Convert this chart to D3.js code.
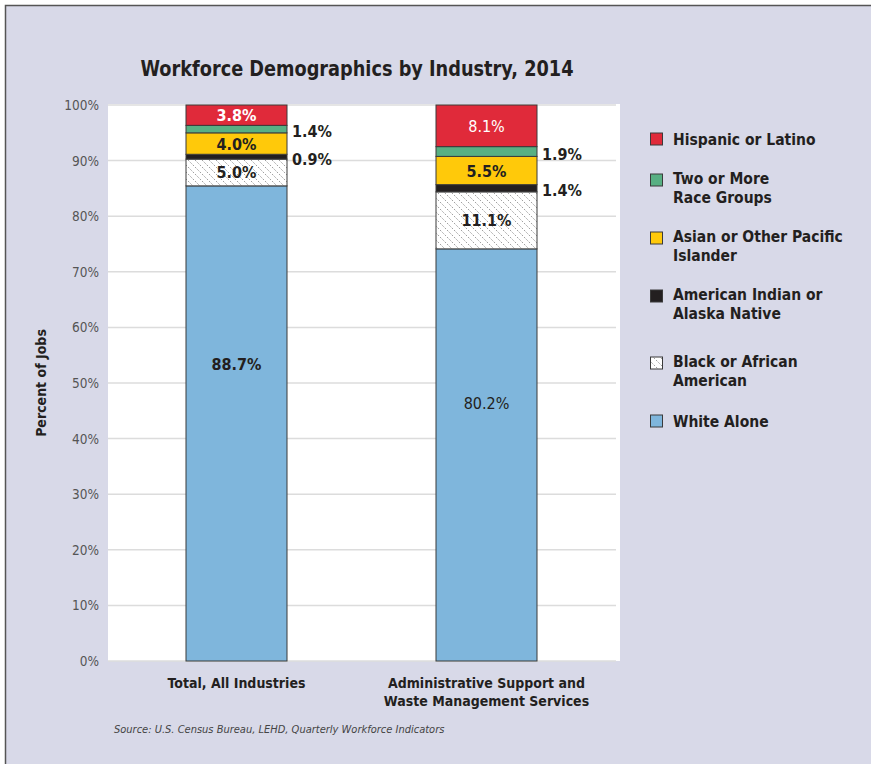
<!DOCTYPE html>
<html>
<head>
<meta charset="utf-8">
<script src="https://cdn.jsdelivr.net/npm/d3@7"></script>
<style>
  body { margin: 0; background: #fff; }
  svg text { font-family: 'DejaVu Sans Condensed', 'Liberation Sans Narrow', 'Open Sans', sans-serif; }
</style>
</head>
<body>
<div id="chart"></div>
<script>
// categories and values (percent of jobs)
var categories = ["Total, All Industries", "Administrative Support and Waste Management Services"];
var catLines = [["Total, All Industries"], ["Administrative Support and", "Waste Management Services"]];
var white    = [88.7, 80.2];
var black    = [5.0, 11.1];
var amInd    = [0.9, 1.4];
var asian    = [4.0, 5.5];
var twoMore  = [1.4, 1.9];
var hispanic = [3.8, 8.1];

var yTicks = [0, 0.1, 0.2, 0.3, 0.4, 0.5, 0.6, 0.7, 0.8, 0.9, 1.0];

// series bottom to top
var keys = ["white", "black", "amInd", "asian", "two", "hispanic"];
var seriesNames = {
  hispanic: ["Hispanic or Latino"],
  two: ["Two or More", "Race Groups"],
  asian: ["Asian or Other Pacific", "Islander"],
  amInd: ["American Indian or", "Alaska Native"],
  black: ["Black or African", "American"],
  white: ["White Alone"]
};
var legendOrder = ["hispanic", "two", "asian", "amInd", "black", "white"];
var colors = {
  white: "#7fb6dc", black: "url(#hatch)", amInd: "#231f20",
  asian: "#ffc90a", two: "#58b083", hispanic: "#e02a3a"
};

var data = categories.map(function(c, i) {
  return { cat: c, white: white[i], black: black[i], amInd: amInd[i],
           asian: asian[i], two: twoMore[i], hispanic: hispanic[i] };
});

var W = 871, H = 764;
var svg = d3.select("#chart").append("svg")
  .attr("width", W).attr("height", H);

var defs = svg.append("defs");
var pat = defs.append("pattern")
  .attr("id", "hatch").attr("patternUnits", "userSpaceOnUse")
  .attr("width", 7).attr("height", 7);
pat.append("rect").attr("width", 7).attr("height", 7).attr("fill", "#fff");
pat.append("path").attr("d", "M-1,-1 L8,8 M-8,-1 L1,8 M6,-1 L15,8")
  .attr("stroke", "#555").attr("stroke-width", 0.8).attr("stroke-dasharray", "1,1.5");

// background panel
svg.append("rect").attr("x", 5.5).attr("y", 5.5).attr("width", W + 10).attr("height", H + 10)
  .attr("fill", "#d8d9e8").attr("stroke", "#555").attr("stroke-width", 1.5);

var plot = { left: 108, right: 620, top: 105, bottom: 661 };
svg.append("rect").attr("x", plot.left).attr("y", plot.top - 1)
  .attr("width", plot.right - plot.left).attr("height", plot.bottom - plot.top + 1)
  .attr("fill", "#fff");

var x = d3.scaleBand().domain(categories)
  .range([plot.left, plot.right - 5]).paddingInner(0.596).paddingOuter(0.312);
var y = d3.scaleLinear().domain([0, 1]).range([plot.bottom, plot.top]);

// gridlines
svg.append("g").selectAll("line").data(yTicks).enter().append("line")
  .attr("x1", plot.left).attr("x2", plot.right - 4)
  .attr("y1", function(d) { return y(d); }).attr("y2", function(d) { return y(d); })
  .attr("stroke", "#dcdcdc").attr("stroke-width", 1.5);

// y axis labels
svg.append("g").selectAll("text").data(yTicks).enter().append("text")
  .attr("x", 99).attr("y", function(d) { return y(d) + 5; })
  .attr("text-anchor", "end").attr("font-size", 13.5).attr("fill", "#555")
  .text(function(d) { return d3.format(".0%")(d); });

svg.append("text")
  .attr("transform", "translate(46,383) rotate(-90)")
  .attr("text-anchor", "middle").attr("font-size", 14).attr("font-weight", "bold")
  .attr("fill", "#231f20").text("Percent of Jobs");

// stacked bars, normalised to 100%
var stack = d3.stack().keys(keys).offset(d3.stackOffsetExpand);
var series = stack(data);

var layers = svg.append("g").selectAll("g").data(series).enter().append("g");
layers.selectAll("rect").data(function(s) { return s.map(function(d) { d.key = s.key; return d; }); })
  .enter().append("rect")
  .attr("x", function(d) { return x(d.data.cat); })
  .attr("y", function(d) { return y(d[1]); })
  .attr("width", x.bandwidth())
  .attr("height", function(d) { return y(d[0]) - y(d[1]); })
  .attr("fill", function(d) { return colors[d.key]; })
  .attr("stroke", "#3a3a3a").attr("stroke-width", 1);

// value labels
var inside = ["white", "black", "asian", "hispanic"];
var regular = { "1-hispanic": true, "1-white": true };
layers.selectAll("text").data(function(s) { return s; })
  .enter().append("text")
  .attr("x", function(d) {
    return inside.indexOf(d.key) >= 0 ? x(d.data.cat) + x.bandwidth() / 2 : x(d.data.cat) + x.bandwidth() + 5;
  })
  .attr("y", function(d) {
    // the big white label sits a bit above the middle of its segment
    if (d.key === "white") return y(d[1] * 0.625) + 6;
    return (y(d[0]) + y(d[1])) / 2 + (inside.indexOf(d.key) >= 0 ? 6 : 8);
  })
  .attr("text-anchor", function(d) { return inside.indexOf(d.key) >= 0 ? "middle" : "start"; })
  .attr("font-size", 16)
  .attr("font-weight", function(d) {
    var i = categories.indexOf(d.data.cat);
    return regular[i + "-" + d.key] ? "normal" : "bold";
  })
  .attr("fill", function(d) { return d.key === "hispanic" ? "#fff" : "#231f20"; })
  .text(function(d) { return d3.format(".1f")(d.data[d.key]) + "%"; });

// category labels
var xl = svg.append("g").selectAll("text").data(categories).enter().append("text")
  .attr("x", function(d) { return x(d) + x.bandwidth() / 2; })
  .attr("y", 688).attr("text-anchor", "middle")
  .attr("font-size", 14).attr("font-weight", "bold").attr("fill", "#231f20");
xl.selectAll("tspan").data(function(d, i) { return catLines[i]; }).enter().append("tspan")
  .attr("x", function() { return d3.select(this.parentNode).attr("x"); })
  .attr("dy", function(d, i) { return i === 0 ? 0 : 18; })
  .text(function(d) { return d; });

// title
svg.append("text").attr("x", 357).attr("y", 76).attr("text-anchor", "middle")
  .attr("font-size", 22).attr("font-weight", "bold").attr("fill", "#231f20")
  .attr("textLength", 433).attr("lengthAdjust", "spacingAndGlyphs")
  .text("Workforce Demographics by Industry, 2014");

// legend
var legendY = [139, 178, 236, 294, 361, 421];
var lg = svg.append("g").selectAll("g").data(legendOrder).enter().append("g")
  .attr("transform", function(d, i) { return "translate(650," + legendY[i] + ")"; });
lg.append("rect").attr("x", 0.5).attr("y", function(d) { return seriesNames[d].length > 1 ? -4 : -6; })
  .attr("width", 12).attr("height", 12)
  .attr("fill", function(d) { return colors[d]; })
  .attr("stroke", "#3a3a3a").attr("stroke-width", 1);
lg.append("text").attr("x", 23).attr("y", 6)
  .attr("font-size", 15.5).attr("font-weight", "bold").attr("fill", "#231f20")
  .selectAll("tspan").data(function(d) { return seriesNames[d]; }).enter().append("tspan")
  .attr("x", 23).attr("dy", function(d, i) { return i === 0 ? 0 : 19; })
  .text(function(d) { return d; });

// source
svg.append("text").attr("x", 114).attr("y", 733)
  .attr("font-size", 11).attr("font-style", "italic").attr("fill", "#444")
  .text("Source: U.S. Census Bureau, LEHD, Quarterly Workforce Indicators");
</script>
</body>
</html>
